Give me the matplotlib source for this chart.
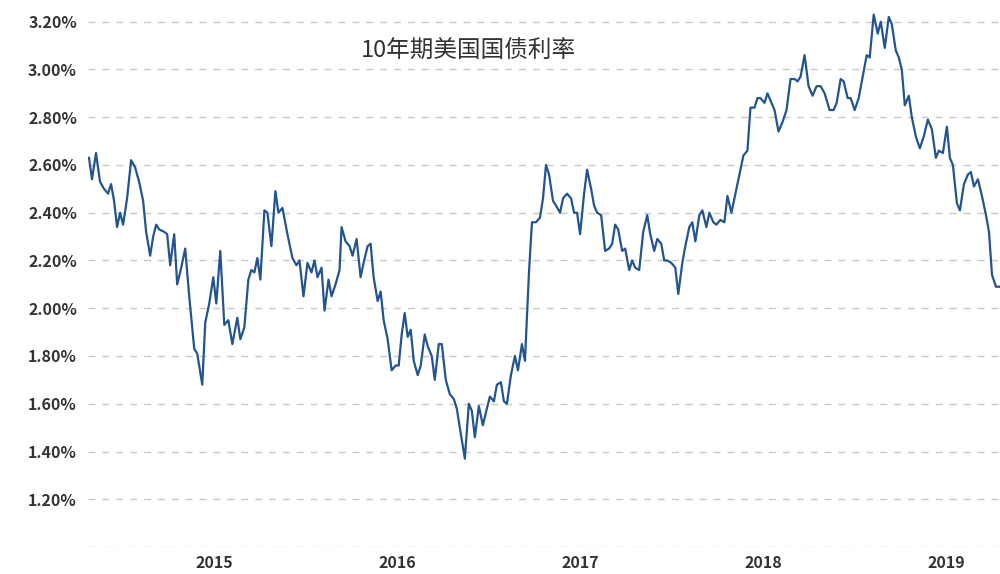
import numpy as np
import matplotlib.pyplot as plt
import matplotlib.dates as mdates
from matplotlib.ticker import FuncFormatter

plt.rcParams['font.family'] = ['Noto Sans CJK SC', 'DejaVu Sans']

# days since 2015-01-01 and the 10y yield (%)
days = [-250, -244, -236, -228, -220, -212, -206, -200, -194, -188, -182, -174, -166, -158, -150,
        -142, -136, -128, -122, -116, -110, -100, -94, -88, -80, -74, -66, -58, -50, -40, -34, -24,
        -18, -10, -2, 4, 12, 20, 28, 36, 46, 52, 60, 68, 74, 80, 86, 92, 100, 106, 114, 122, 128,
        136, 146, 156, 164, 170, 178, 186, 194, 200, 206, 214, 220, 228, 234, 242, 250, 254, 262,
        270, 276, 284, 292, 298, 306, 312, 318, 326, 332, 338, 346, 354, 362, 368, 374, 380, 386,
        392, 398, 406, 412, 420, 426, 434, 440, 448, 454, 462, 470, 478, 484, 490, 500, 508, 514,
        520, 528, 536, 544, 550, 558, 564, 572, 578, 584, 592, 600, 606, 614, 620, 628, 634, 642,
        650, 656, 662, 668, 676, 682, 690, 696, 704, 712, 718, 724, 730, 738, 744, 752, 758, 764,
        772, 780, 788, 794, 800, 806, 814, 820, 828, 834, 840, 848, 856, 864, 870, 878, 884, 892,
        898, 904, 912, 920, 926, 934, 940, 948, 954, 960, 968, 974, 982, 988, 996, 1002, 1010,
        1018, 1024, 1032, 1040, 1048, 1056, 1064, 1070, 1078, 1084, 1090, 1098, 1104, 1112, 1118,
        1126, 1134, 1142, 1150, 1158, 1164, 1170, 1178, 1186, 1194, 1202, 1210, 1218, 1228, 1236,
        1242, 1250, 1256, 1264, 1270, 1278, 1286, 1294, 1302, 1308, 1316, 1324, 1330, 1338, 1346,
        1352, 1360, 1366, 1372, 1378, 1386, 1392, 1400, 1408, 1416, 1424, 1432, 1440, 1446, 1454,
        1462, 1468, 1474, 1482, 1488, 1496, 1504, 1510, 1516, 1524, 1532, 1540, 1546, 1552, 1560,
        1566]
rates = [2.63, 2.54, 2.65, 2.53, 2.50, 2.48, 2.52, 2.45, 2.34, 2.40, 2.35, 2.46, 2.62, 2.59, 2.53,
         2.45, 2.32, 2.22, 2.30, 2.35, 2.33, 2.32, 2.31, 2.18, 2.31, 2.10, 2.17, 2.25, 2.05, 1.83,
         1.81, 1.68, 1.94, 2.02, 2.13, 2.02, 2.24, 1.93, 1.95, 1.85, 1.96, 1.87, 1.92, 2.12, 2.16,
         2.15, 2.21, 2.12, 2.41, 2.40, 2.26, 2.49, 2.40, 2.42, 2.31, 2.21, 2.18, 2.20, 2.05, 2.19,
         2.15, 2.20, 2.13, 2.17, 1.99, 2.12, 2.05, 2.10, 2.16, 2.34, 2.28, 2.26, 2.22, 2.29, 2.13,
         2.19, 2.26, 2.27, 2.13, 2.03, 2.07, 1.95, 1.87, 1.74, 1.76, 1.76, 1.89, 1.98, 1.88, 1.91,
         1.78, 1.72, 1.76, 1.89, 1.84, 1.80, 1.70, 1.85, 1.85, 1.70, 1.64, 1.62, 1.58, 1.50, 1.37,
         1.60, 1.57, 1.46, 1.59, 1.51, 1.58, 1.63, 1.61, 1.68, 1.69, 1.61, 1.60, 1.72, 1.80, 1.74,
         1.85, 1.78, 2.15, 2.36, 2.36, 2.38, 2.46, 2.60, 2.56, 2.45, 2.43, 2.40, 2.46, 2.48, 2.46,
         2.40, 2.40, 2.31, 2.48, 2.58, 2.50, 2.43, 2.40, 2.39, 2.24, 2.25, 2.27, 2.35, 2.33, 2.24,
         2.25, 2.16, 2.20, 2.17, 2.16, 2.32, 2.39, 2.31, 2.24, 2.29, 2.27, 2.20, 2.20, 2.19, 2.17,
         2.06, 2.19, 2.26, 2.34, 2.36, 2.28, 2.39, 2.41, 2.34, 2.40, 2.36, 2.35, 2.37, 2.36, 2.47,
         2.40, 2.48, 2.56, 2.64, 2.66, 2.84, 2.84, 2.88, 2.88, 2.86, 2.90, 2.86, 2.83, 2.74, 2.78,
         2.83, 2.96, 2.96, 2.95, 2.97, 3.06, 2.93, 2.89, 2.93, 2.93, 2.90, 2.83, 2.83, 2.86, 2.96,
         2.95, 2.88, 2.88, 2.83, 2.88, 2.97, 3.06, 3.05, 3.23, 3.15, 3.20, 3.09, 3.22, 3.19, 3.08,
         3.05, 3.00, 2.85, 2.89, 2.80, 2.72, 2.67, 2.72, 2.79, 2.75, 2.63, 2.66, 2.65, 2.76, 2.63,
         2.60, 2.44, 2.41, 2.52, 2.56, 2.57, 2.51, 2.54, 2.47, 2.39, 2.32, 2.14, 2.09, 2.09]
yticks = [1.0, 1.2, 1.4, 1.6, 1.8, 2.0, 2.2, 2.4, 2.6, 2.8, 3.0, 3.2]
years = [2015, 2016, 2017, 2018, 2019]
title = '10年期美国国债利率'

dates = np.datetime64('2015-01-01') + np.array(days).astype('timedelta64[D]')

fig = plt.figure(figsize=(10, 5.74), dpi=100)
ax = fig.add_axes([0.088, 0.047, 0.912, 0.936])
ax.plot(dates, rates, color='#23548f', lw=1.6)

ax.set_ylim(1.0, 3.25)
ax.set_xlim(dates[0] - np.timedelta64(2, 'D'), dates[-1] + np.timedelta64(2, 'D'))
ax.set_yticks(yticks)
ax.yaxis.set_major_formatter(FuncFormatter(lambda v, p: '' if v < 1.1 else f'{v:.2f}%'))
ax.set_xticks([np.datetime64(f'{y}-01-01') for y in years])
ax.xaxis.set_major_formatter(mdates.DateFormatter('%Y'))
ax.grid(axis='y', color='#c8c8c8', ls=(0, (5, 5)), lw=1)
for s in ax.spines.values():
    s.set_visible(False)
ax.tick_params(length=0, colors='#333333', labelsize=11.5)
ax.tick_params(axis='y', pad=8)
ax.tick_params(axis='x', pad=6)
for lab in ax.get_xticklabels() + ax.get_yticklabels():
    lab.set_fontweight('bold')

fig.text(0.468, 0.91, title, ha='center', va='center', fontsize=17, color='#333333')

fig.savefig('out.png')
